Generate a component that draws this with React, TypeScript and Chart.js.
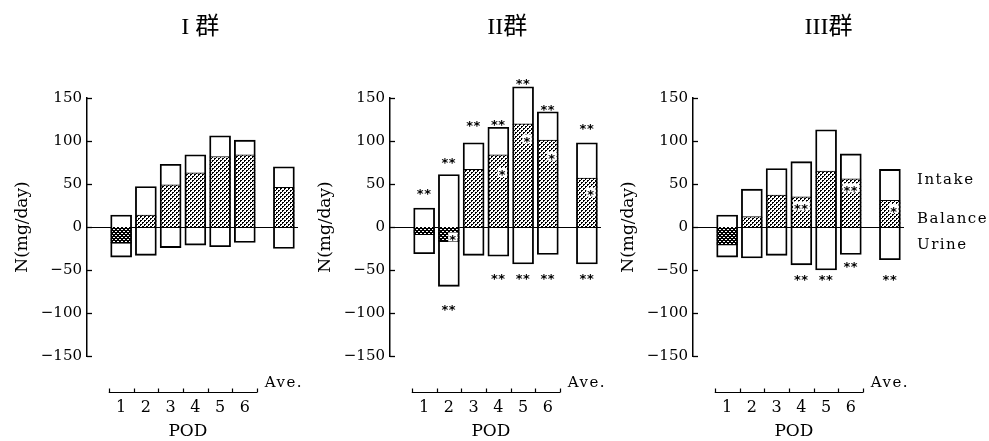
import React, { useEffect, useRef } from 'react';
import { Chart, registerables } from 'chart.js';

Chart.register(...registerables);

// ---------- data ----------
const CATEGORIES = ['1', '2', '3', '4', '5', '6', 'Ave.'];
const Y_TICKS = [-150, -100, -50, 0, 50, 100, 150];
const LEGEND_LABELS = ['Intake', 'Balance', 'Urine'];
const LEGEND_AT = [55, 9, -21];

const I_INTAKE = [14, 47, 73, 84, 106, 101, 70];
const I_URINE = [-35, -33, -24, -21, -23, -18, -25];
const I_BALANCE = [-19, 14, 49, 63, 82, 84, 46];

const II_INTAKE = [22, 61, 98, 116, 163, 134, 98];
const II_URINE = [-31, -69, -33, -34, -43, -32, -43];
const II_BALANCE = [-9, -17, 67, 84, 120, 101, 57];

const III_INTAKE = [14, 44, 68, 76, 113, 85, 67];
const III_URINE = [-35, -36, -33, -44, -50, -32, -38];
const III_BALANCE = [-21, 12, 37, 35, 65, 56, 31];

// significance marks (text and the value level where they sit)
const NONE7 = ['', '', '', '', '', '', ''];
const NULL7: (number | null)[] = [null, null, null, null, null, null, null];

const II_TOP_MARKS = ['**', '**', '**', '**', '**', '**', '**'];
const II_TOP_MARK_AT = [42, 78, 121, 123, 170, 140, 118];
const II_MID_MARKS = ['', '*', '', '*', '*', '*', '*'];
const II_MID_MARK_AT = [null, -11, null, 64, 103, 83, 41];
const II_LOW_MARKS = ['', '**', '', '**', '**', '**', '**'];
const II_LOW_MARK_AT = [null, -92, null, -56, -56, -56, -56];

const III_MID_MARKS = ['', '', '', '**', '', '**', '*'];
const III_MID_MARK_AT = [null, null, null, 25, null, 46, 22];
const III_LOW_MARKS = ['', '', '', '**', '**', '**', '**'];
const III_LOW_MARK_AT = [null, null, null, -57, -57, -42, -57];

// ---------- layout ----------
const AVE_SLOT = 7.58;
const slotOf = (i: number) => (i < 6 ? i + 1 : AVE_SLOT);
const SERIF = '"DejaVu Serif", serif';

type PanelSpec = {
  title: string;
  titleAt: number;
  left: number;
  width: number;
  intake: number[];
  urine: number[];
  balance: number[];
  topMarks: string[];
  topAt: (number | null)[];
  midMarks: string[];
  midAt: (number | null)[];
  lowMarks: string[];
  lowAt: (number | null)[];
  legend: boolean;
};

const PANELS: PanelSpec[] = [
  {
    title: 'I 群', titleAt: 4.2, left: 0, width: 303,
    intake: I_INTAKE, urine: I_URINE, balance: I_BALANCE,
    topMarks: NONE7, topAt: NULL7, midMarks: NONE7, midAt: NULL7, lowMarks: NONE7, lowAt: NULL7,
    legend: false,
  },
  {
    title: 'II群', titleAt: 4.36, left: 303, width: 303,
    intake: II_INTAKE, urine: II_URINE, balance: II_BALANCE,
    topMarks: II_TOP_MARKS, topAt: II_TOP_MARK_AT, midMarks: II_MID_MARKS, midAt: II_MID_MARK_AT,
    lowMarks: II_LOW_MARKS, lowAt: II_LOW_MARK_AT,
    legend: false,
  },
  {
    title: 'III群', titleAt: 5.1, left: 606, width: 383,
    intake: III_INTAKE, urine: III_URINE, balance: III_BALANCE,
    topMarks: NONE7, topAt: NULL7, midMarks: III_MID_MARKS, midAt: III_MID_MARK_AT,
    lowMarks: III_LOW_MARKS, lowAt: III_LOW_MARK_AT,
    legend: true,
  },
];

function makePattern(dark: boolean): CanvasPattern | string {
  const c = document.createElement('canvas');
  c.width = 4;
  c.height = 4;
  const g = c.getContext('2d');
  if (!g) return dark ? '#333' : '#888';
  if (dark) {
    g.fillStyle = '#000';
    g.fillRect(0, 0, 4, 4);
    g.fillStyle = '#fff';
    g.fillRect(1, 1, 1, 1);
    g.fillRect(3, 3, 1, 1);
    g.fillRect(2, 1, 1, 1);
    g.fillRect(0, 3, 1, 1);
  } else {
    g.fillStyle = '#fff';
    g.fillRect(0, 0, 4, 4);
    g.fillStyle = '#000';
    g.fillRect(0, 0, 2, 2);
    g.fillRect(2, 2, 2, 2);
    g.fillStyle = '#fff';
    g.fillRect(1, 1, 1, 1);
    g.fillRect(3, 3, 1, 1);
    g.fillStyle = '#000';
  }
  return g.createPattern(c, 'repeat') || (dark ? '#333' : '#888');
}

function drawMark(ctx: CanvasRenderingContext2D, text: string, x: number, y: number, backdrop: boolean) {
  ctx.save();
  ctx.font = 'bold 13px "DejaVu Sans", sans-serif';
  (ctx as any).letterSpacing = '0.5px';
  const cx = text.length === 1 ? x + 4 : x;
  ctx.textAlign = 'center';
  ctx.textBaseline = 'alphabetic';
  if (backdrop) {
    const w = ctx.measureText(text).width;
    ctx.fillStyle = '#fff';
    ctx.fillRect(cx - w / 2 - 1, y - 4, w + 2, 9);
  }
  ctx.fillStyle = '#000';
  ctx.fillText(text, cx, y + 7.5);
  ctx.restore();
}

function overlayPlugin(p: PanelSpec) {
  return {
    id: 'overlay',
    beforeDatasetsDraw(chart: any) {
      const { ctx, chartArea, scales } = chart;
      const y0 = Math.round(scales.y.getPixelForValue(0)) + 0.5;
      ctx.save();
      ctx.strokeStyle = '#000';
      ctx.lineWidth = 1;
      ctx.beginPath();
      ctx.moveTo(chartArea.left, y0);
      ctx.lineTo(chartArea.right, y0);
      ctx.stroke();
      ctx.restore();
    },
    afterDraw(chart: any) {
      const { ctx, chartArea, scales } = chart;
      const xs = scales.x;
      const ys = scales.y;
      ctx.save();
      ctx.strokeStyle = '#000';
      ctx.fillStyle = '#000';
      // inside ticks on the y axis
      ctx.lineWidth = 1.3;
      Y_TICKS.forEach((v) => {
        const py = Math.round(ys.getPixelForValue(v)) + 0.5;
        ctx.beginPath();
        ctx.moveTo(chartArea.left, py);
        ctx.lineTo(chartArea.left + 5, py);
        ctx.stroke();
      });
      // POD bracket
      const yB = Math.round(chartArea.bottom + 36) + 0.5;
      ctx.lineWidth = 1.2;
      ctx.beginPath();
      ctx.moveTo(xs.getPixelForValue(0.5), yB);
      ctx.lineTo(xs.getPixelForValue(6.5), yB);
      for (let k = 0; k <= 6; k++) {
        const px = Math.round(xs.getPixelForValue(k + 0.5)) + 0.5;
        ctx.moveTo(px, yB);
        ctx.lineTo(px, yB - 4);
      }
      ctx.stroke();
      // category labels
      ctx.textAlign = 'center';
      ctx.textBaseline = 'middle';
      ctx.font = '16px ' + SERIF;
      CATEGORIES.forEach((lab, i) => {
        if (i < 6) ctx.fillText(lab, xs.getPixelForValue(slotOf(i)), yB + 15);
      });
      ctx.font = '15px ' + SERIF;
      (ctx as any).letterSpacing = '1.5px';
      ctx.fillText(CATEGORIES[6], xs.getPixelForValue(AVE_SLOT), yB - 9);
      (ctx as any).letterSpacing = '0px';
      ctx.font = '17px ' + SERIF;
      ctx.fillText('POD', xs.getPixelForValue(3.7), yB + 39);
      // panel title
      ctx.font = '24px "Liberation Serif", "Noto Sans CJK JP", serif';
      ctx.fillText(p.title, xs.getPixelForValue(p.titleAt), 28);
      // legend
      if (p.legend) {
        ctx.textAlign = 'left';
        ctx.font = '15px ' + SERIF;
        (ctx as any).letterSpacing = '1.5px';
        LEGEND_LABELS.forEach((lab, i) => {
          ctx.fillText(lab, chartArea.right + 13, ys.getPixelForValue(LEGEND_AT[i]));
        });
        (ctx as any).letterSpacing = '0px';
      }
      ctx.restore();
      // significance marks
      CATEGORIES.forEach((_, i) => {
        const px = xs.getPixelForValue(slotOf(i));
        const t = p.topAt[i];
        if (p.topMarks[i] && t !== null) drawMark(ctx, p.topMarks[i], px, ys.getPixelForValue(t), false);
        const m = p.midAt[i];
        if (p.midMarks[i] && m !== null) drawMark(ctx, p.midMarks[i], px, ys.getPixelForValue(m), true);
        const l = p.lowAt[i];
        if (p.lowMarks[i] && l !== null) drawMark(ctx, p.lowMarks[i], px, ys.getPixelForValue(l), false);
      });
    },
  };
}

function Panel({ p }: { p: PanelSpec }) {
  const ref = useRef<HTMLCanvasElement>(null);
  useEffect(() => {
    if (!ref.current) return;
    const light = makePattern(false);
    const dark = makePattern(true);
    const valOf = (c: any) => (c.raw && Array.isArray(c.raw.y) ? c.raw.y[1] : 0);
    const chart = new Chart(ref.current, {
      type: 'bar',
      data: {
        datasets: [
          {
            label: 'Intake / Urine',
            data: CATEGORIES.map((_, i) => ({ x: slotOf(i), y: [p.urine[i], p.intake[i]] })),
            backgroundColor: 'rgba(0,0,0,0)',
            borderColor: '#000',
            borderWidth: 1.2,
            borderSkipped: false,
            grouped: false,
            barThickness: 21,
            clip: false,
          } as any,
          {
            label: 'Balance',
            data: CATEGORIES.map((_, i) => ({ x: slotOf(i), y: [0, p.balance[i]] })),
            backgroundColor: (c: any) => (valOf(c) < 0 ? dark : light),
            borderColor: '#000',
            borderWidth: (c: any) =>
              valOf(c) < 0 ? { top: 0, right: 0, bottom: 1, left: 0 } : { top: 1, right: 0, bottom: 0, left: 0 },
            borderSkipped: false,
            grouped: false,
            barThickness: 21,
            clip: false,
          } as any,
        ],
      },
      options: {
        animation: false,
        responsive: false,
        devicePixelRatio: 1,
        layout: { padding: { left: 8, right: p.width - 87 - 211, top: 98, bottom: 85 } },
        plugins: { legend: { display: false }, tooltip: { enabled: false }, title: { display: false } },
        scales: {
          x: {
            type: 'linear',
            display: false,
            offset: false,
            min: -0.38,
            max: 8.15,
            ticks: { stepSize: 1, includeBounds: false },
          },
          y: {
            type: 'linear',
            min: -150,
            max: 150,
            afterFit: (s: any) => {
              s.width = 79;
            },
            ticks: {
              stepSize: 50,
              padding: 5,
              color: '#000',
              font: { family: SERIF, size: 15 },
              callback: (v: any) => (Number(v) < 0 ? '\u2212' + Math.abs(Number(v)) : String(v)),
            },
            grid: { display: false, drawTicks: false },
            border: { display: true, color: '#000', width: 1.5 },
            title: {
              display: true,
              text: 'N(mg/day)',
              color: '#000',
              font: { family: SERIF, size: 17 },
              padding: { top: 4, bottom: 4 },
            },
          },
        },
      } as any,
      plugins: [overlayPlugin(p)],
    });
    return () => chart.destroy();
  }, [p]);
  return (
    <canvas
      ref={ref}
      width={p.width}
      height={441}
      style={{ position: 'absolute', left: p.left, top: 0, width: p.width, height: 441 }}
    />
  );
}

export default function App() {
  return (
    <div style={{ position: 'absolute', left: 0, top: 0, width: 989, height: 441, background: '#fff', overflow: 'hidden' }}>
      {PANELS.map((p, i) => (
        <Panel key={i} p={p} />
      ))}
    </div>
  );
}
